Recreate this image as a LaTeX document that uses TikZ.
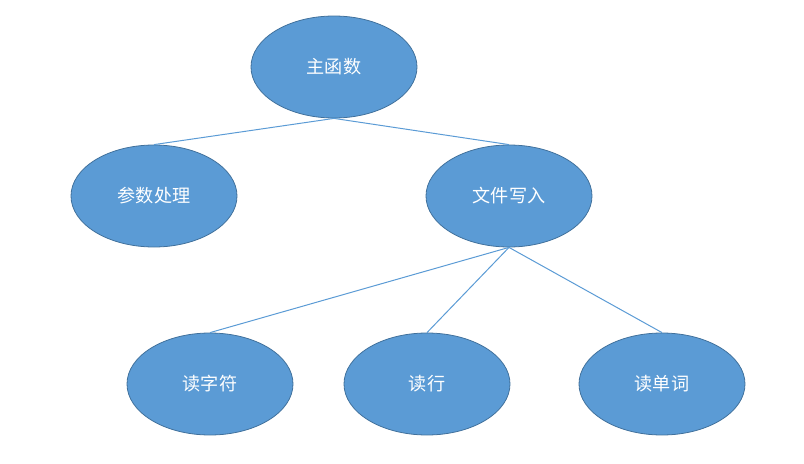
\documentclass[tikz,border=0pt]{standalone}
\usepackage{fontspec}
\setmainfont{Noto Sans CJK SC}
\usetikzlibrary{shapes.geometric}
\definecolor{fillblue}{HTML}{5B9BD5}
\definecolor{edgeblue}{HTML}{41719C}
\begin{document}
\begin{tikzpicture}[x=0.75pt,y=-0.75pt,
  oval/.style={ellipse,draw=edgeblue,fill=fillblue,line width=0.6pt,
    minimum width=166*0.75pt,minimum height=102*0.75pt,inner sep=0pt,
    text=white,font=\fontsize{13.6}{16}\selectfont},
  link/.style={draw=fillblue,line width=0.75pt}]
\useasboundingbox (0,0) rectangle (804,464);
\node[oval] (main) at (334,67) {主函数};
\node[oval] (args) at (154,196) {参数处理};
\node[oval] (file) at (509,196) {文件写入};
\node[oval] (chr) at (210,384) {读字符};
\node[oval] (line) at (427,384) {读行};
\node[oval] (word) at (662,384) {读单词};
\draw[link] (main.south) -- (args.north);
\draw[link] (main.south) -- (file.north);
\draw[link] (file.south) -- (chr.north);
\draw[link] (file.south) -- (line.north);
\draw[link] (file.south) -- (word.north);
\end{tikzpicture}
\end{document}
